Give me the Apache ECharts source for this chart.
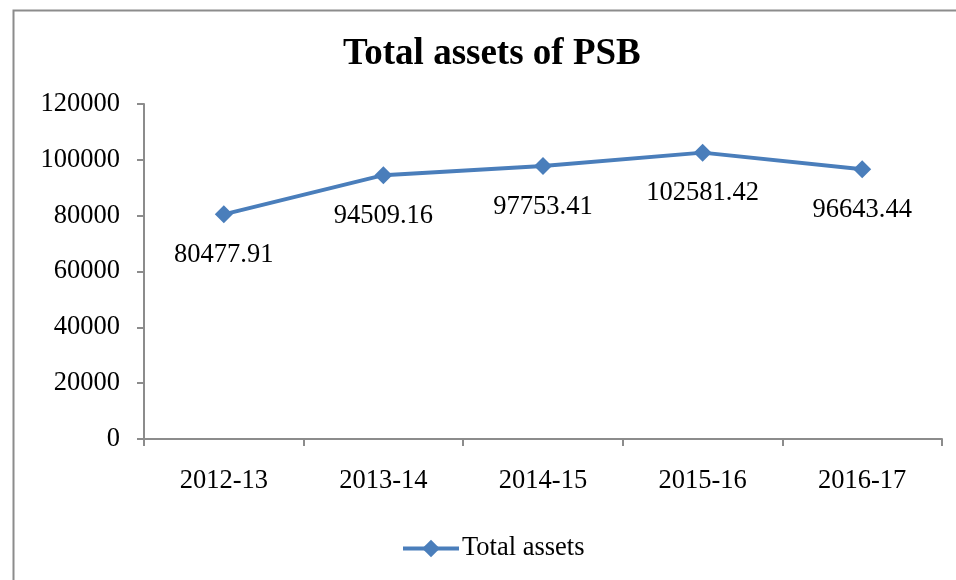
<!DOCTYPE html>
<html>
<head>
<meta charset="utf-8">
<script src="https://cdn.jsdelivr.net/npm/echarts@6/dist/echarts.min.js"></script>
<style>html,body{margin:0;padding:0;background:#fff}#c{width:956px;height:580px}</style>
</head>
<body>
<div id="c"></div>
<script>
const categories = ['2012-13', '2013-14', '2014-15', '2015-16', '2016-17'];
const totalAssets = [80477.91, 94509.16, 97753.41, 102581.42, 96643.44];
const yTicks = [0, 20000, 40000, 60000, 80000, 100000, 120000];
const seriesName = 'Total assets';
const titleText = 'Total assets of PSB';

const FONT = "'Liberation Serif', 'Times New Roman', serif";
const FS = 26.5;
const chart = echarts.init(document.getElementById('c'), null, {renderer: 'canvas'});
chart.setOption({
  backgroundColor: '#fff',
  animation: false,
  graphic: [{
    type: 'rect', left: 11, top: 8,
    shape: {width: 960, height: 600},
    style: {fill: 'none', stroke: '#8c8c8c', lineWidth: 2},
    silent: true
  }],
  title: {
    text: titleText, left: 338, top: 31,
    textStyle: {fontFamily: FONT, fontSize: 37, fontWeight: 'bold', color: '#000'}
  },
  legend: {
    bottom: 13, left: 396,
    itemWidth: 56, itemHeight: 22, itemGap: 4,
    textStyle: {fontFamily: FONT, fontSize: FS, color: '#000', padding: [0, 0, 0, -2]},
    lineStyle: {width: 4},
    data: [seriesName]
  },
  grid: {left: 144, right: 14, top: 104, bottom: 141, containLabel: false},
  xAxis: {
    type: 'category', data: categories, boundaryGap: true,
    axisLine: {lineStyle: {color: '#8c8c8c', width: 2}},
    axisTick: {show: true, length: 7, lineStyle: {color: '#8c8c8c', width: 2}},
    axisLabel: {fontFamily: FONT, fontSize: FS, color: '#000', margin: 29},
    splitLine: {show: false}
  },
  yAxis: {
    type: 'value', min: yTicks[0], max: yTicks[yTicks.length - 1], interval: 20000,
    axisLine: {show: true, lineStyle: {color: '#8c8c8c', width: 2}},
    axisTick: {show: true, length: 7, lineStyle: {color: '#8c8c8c', width: 2}},
    axisLabel: {fontFamily: FONT, fontSize: FS, color: '#000', margin: 24, formatter: v => String(v)},
    splitLine: {show: false}
  },
  series: [{
    name: seriesName, type: 'line', data: totalAssets,
    symbol: 'diamond', symbolSize: 18,
    lineStyle: {color: '#4a7ebb', width: 4},
    itemStyle: {color: '#4a7ebb'},
    label: {
      show: true, position: 'bottom', distance: 18,
      fontFamily: FONT, fontSize: FS, color: '#000',
      formatter: p => p.value.toFixed(2)
    }
  }]
});
</script>
</body>
</html>
